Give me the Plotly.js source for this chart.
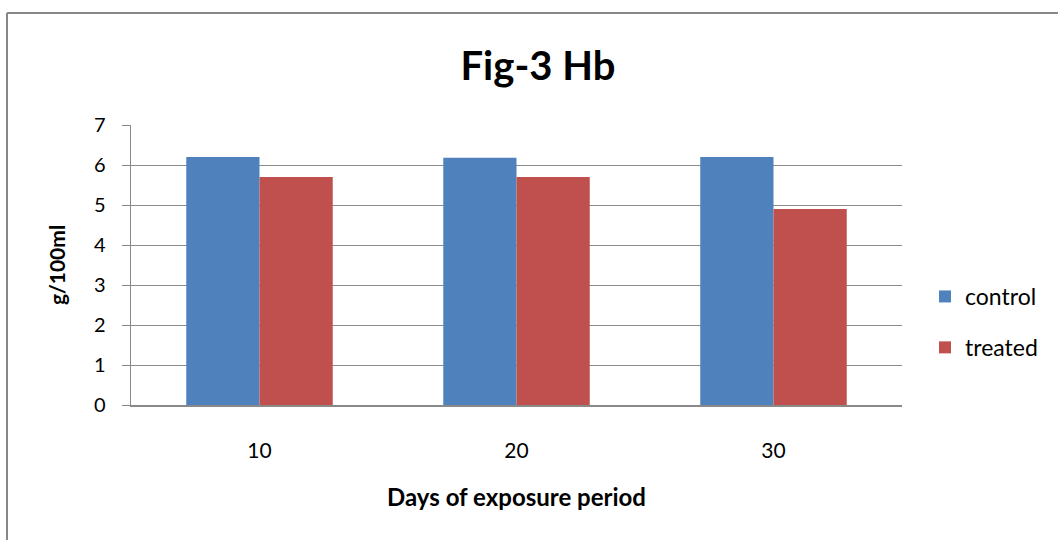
<!DOCTYPE html>
<html>
<head>
<meta charset="utf-8">
<script src="https://cdn.plot.ly/plotly-3.0.1.min.js"></script>
<style>html,body{margin:0;padding:0;background:#fff;}#chart{width:1058px;height:540px;}</style>
</head>
<body>
<div id="chart"></div>
<script>
const categories = ["10", "20", "30"];
const controlValues = [6.2, 6.18, 6.2];
const treatedValues = [5.7, 5.7, 4.9];
const yTickValues = [0, 1, 2, 3, 4, 5, 6, 7];

const FONT = "Lato, 'Open Sans', sans-serif";
const L = 131, R = 902, T = 125, B = 405, W = 1058, H = 540;
const px = x => (x - L) / (R - L);
const py = y => (B - y) / (B - T);

const traces = [
  {type: "bar", name: "control", x: categories, y: controlValues,
   marker: {color: "#4F81BD"}, legendgroup: "a"},
  {type: "bar", name: "treated", x: categories, y: treatedValues,
   marker: {color: "#C0504D"}, legendgroup: "b"}
];

const layout = {
  width: W, height: H,
  margin: {l: L, r: W - R, t: T, b: H - B, pad: 0},
  paper_bgcolor: "#fff", plot_bgcolor: "#fff",
  font: {family: FONT, color: "#000"},
  barmode: "group", bargap: 0.43, bargroupgap: 0,
  showlegend: true,
  title: {text: "<b>Fig-3 Hb</b>", font: {size: 40, family: FONT, color: "#000"},
          x: 538 / W, xanchor: "center", y: 1 - 66 / H, yanchor: "middle"},
  xaxis: {
    type: "category", showgrid: false, zeroline: false,
    showline: true, linecolor: "#898989", linewidth: 1.5,
    ticks: "", ticklabelstandoff: 26, tickfont: {size: 21, family: FONT, color: "#000"},
    title: {text: "<b>Days of exposure period</b>", font: {size: 24, family: FONT, color: "#000"}, standoff: 28}
  },
  yaxis: {
    range: [0, 7], tickvals: yTickValues, ticktext: yTickValues.map(String),
    showgrid: true, gridcolor: "#8c8c8c", gridwidth: 1,
    zeroline: false, showline: true, linecolor: "#898989", linewidth: 1.5,
    ticks: "outside", ticklen: 8, tickcolor: "#898989", tickwidth: 1,
    ticklabelstandoff: 12,
    tickfont: {size: 20, family: FONT, color: "#000"},
    title: {text: "<b>g/100ml</b>", font: {size: 21, family: FONT, color: "#000"}, standoff: 22}
  },
  legend: {x: px(925), xanchor: "left", y: py(322), yanchor: "middle",
           font: {size: 23, family: FONT, color: "#000"},
           traceorder: "grouped", tracegroupgap: 18, bgcolor: "rgba(0,0,0,0)",
           itemwidth: 30},
  shapes: [
    {type: "line", xref: "paper", yref: "paper", x0: px(7), x1: px(1060), y0: py(13), y1: py(13),
     line: {color: "#878787", width: 2}},
    {type: "line", xref: "paper", yref: "paper", x0: px(7), x1: px(7), y0: py(13), y1: py(545),
     line: {color: "#878787", width: 2}}
  ]
};

Plotly.newPlot("chart", traces, layout, {displayModeBar: false, staticPlot: true});
</script>
</body>
</html>
